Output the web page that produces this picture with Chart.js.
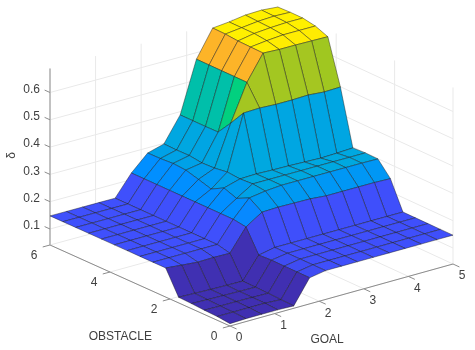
<!DOCTYPE html>
<html>
<head>
<meta charset="utf-8">
<style>
    html, body { margin: 0; padding: 0; background: #fff; }
    canvas { display: block; }
</style>
<script src="https://cdn.jsdelivr.net/npm/chart.js@4"></script>
</head>
<body>
<canvas id="surfaceChart" width="475" height="350"></canvas>
<script>
/* ---------- DATA ---------- */
const goalGrid = [0, 0.357, 0.714, 1.071, 1.429, 1.786, 2.143, 2.5, 2.857, 3.214, 3.571, 3.929, 4.286, 4.643, 5];
const obstacleGrid = [0, 0.429, 0.857, 1.286, 1.714, 2.143, 2.571, 3, 3.429, 3.857, 4.286, 4.714, 5.143, 5.571, 6];

/* one row per obstacle value, one column per goal value */
const deltaRows = [
    [0.050, 0.052, 0.052, 0.052, 0.050, 0.137, 0.147, 0.147, 0.147, 0.147, 0.147, 0.147, 0.147, 0.147, 0.147],
    [0.055, 0.055, 0.055, 0.055, 0.052, 0.137, 0.147, 0.147, 0.147, 0.147, 0.147, 0.147, 0.147, 0.147, 0.147],
    [0.057, 0.056, 0.056, 0.055, 0.054, 0.137, 0.147, 0.147, 0.147, 0.147, 0.147, 0.147, 0.147, 0.147, 0.147],
    [0.060, 0.058, 0.057, 0.056, 0.055, 0.138, 0.147, 0.147, 0.147, 0.147, 0.147, 0.147, 0.147, 0.147, 0.147],
    [0.062, 0.060, 0.058, 0.057, 0.056, 0.135, 0.147, 0.147, 0.147, 0.147, 0.147, 0.147, 0.147, 0.147, 0.147],
    [0.148, 0.142, 0.137, 0.138, 0.137, 0.217, 0.255, 0.257, 0.256, 0.255, 0.250, 0.250, 0.250, 0.250, 0.248],
    [0.148, 0.148, 0.148, 0.148, 0.148, 0.224, 0.286, 0.295, 0.300, 0.300, 0.300, 0.300, 0.300, 0.300, 0.299],
    [0.148, 0.148, 0.148, 0.148, 0.148, 0.224, 0.263, 0.300, 0.300, 0.300, 0.300, 0.300, 0.300, 0.300, 0.300],
    [0.148, 0.148, 0.148, 0.148, 0.148, 0.224, 0.280, 0.297, 0.299, 0.297, 0.296, 0.294, 0.292, 0.294, 0.297],
    [0.148, 0.148, 0.148, 0.148, 0.148, 0.224, 0.255, 0.301, 0.501, 0.503, 0.500, 0.500, 0.502, 0.497, 0.499],
    [0.148, 0.148, 0.148, 0.148, 0.148, 0.224, 0.269, 0.294, 0.443, 0.576, 0.667, 0.664, 0.664, 0.663, 0.662],
    [0.148, 0.148, 0.148, 0.148, 0.148, 0.224, 0.282, 0.292, 0.389, 0.576, 0.668, 0.675, 0.680, 0.680, 0.680],
    [0.148, 0.148, 0.148, 0.148, 0.148, 0.224, 0.285, 0.298, 0.388, 0.576, 0.669, 0.680, 0.685, 0.688, 0.688],
    [0.148, 0.148, 0.148, 0.148, 0.148, 0.224, 0.282, 0.297, 0.388, 0.576, 0.673, 0.680, 0.687, 0.690, 0.688],
    [0.148, 0.148, 0.148, 0.148, 0.148, 0.224, 0.281, 0.298, 0.388, 0.576, 0.674, 0.680, 0.689, 0.691, 0.686]
];

const goalTicks = [0, 1, 2, 3, 4, 5];
const obstacleTicks = [0, 2, 4, 6];
const deltaTicks = [0.1, 0.2, 0.3, 0.4, 0.5, 0.6];
const goalLabel = "GOAL";
const obstacleLabel = "OBSTACLE";
const deltaLabel = "δ";

/* ---------- VIEW ---------- */
const deltaMin = 0.0414;
const deltaMax = 0.688;
const goalMax = 5;
const obstacleMax = 6;

/* face colours along the normalised delta range */
const colorStops = [
    [0.00, [64, 46, 176]],
    [0.03, [64, 48, 178]],
    [0.17, [63, 81, 255]],
    [0.285, [0, 144, 255]],
    [0.37, [0, 160, 232]],
    [0.40, [0, 168, 224]],
    [0.54, [0, 192, 168]],
    [0.62, [0, 208, 128]],
    [0.70, [156, 200, 32]],
    [0.83, [255, 180, 40]],
    [0.97, [255, 240, 0]],
    [1.00, [255, 240, 0]]
];

/* near-orthographic view, result is in chart scale units */
function project(goal, obstacle, delta) {
    return {
        x: 230 + 44.6 * goal - 30 * obstacle + 0.16 * goal * obstacle,
        y: 326 - 12.4 * goal - 13.5 * obstacle - 273 * (delta - deltaMin)
    };
}

function faceColor(delta) {
    const t = (delta - deltaMin) / (deltaMax - deltaMin);
    for (let i = 1; i < colorStops.length; i++) {
        if (t <= colorStops[i][0]) {
            const [t0, c0] = colorStops[i - 1];
            const [t1, c1] = colorStops[i];
            const f = Math.max(0, (t - t0) / (t1 - t0));
            const mix = c0.map((c, k) => Math.round(c + (c1[k] - c) * f));
            return `rgb(${mix.join(",")})`;
        }
    }
    return "rgb(255,240,0)";
}

/* ---------- DATASETS ---------- */
function lineSet(points, color, width) {
    return {
        data: points,
        borderColor: color,
        borderWidth: width,
        pointRadius: 0,
        fill: false,
        tension: 0,
        clip: false
    };
}

function faceSet(i, j) {
    const corners = [
        project(goalGrid[i], obstacleGrid[j], deltaRows[j][i]),
        project(goalGrid[i + 1], obstacleGrid[j], deltaRows[j][i + 1]),
        project(goalGrid[i + 1], obstacleGrid[j + 1], deltaRows[j + 1][i + 1]),
        project(goalGrid[i], obstacleGrid[j + 1], deltaRows[j + 1][i])
    ];
    corners.push(corners[0]);
    return {
        data: corners,
        borderColor: "rgba(20,20,20,0.72)",
        borderWidth: 0.6,
        backgroundColor: faceColor(deltaRows[j][i]),
        pointRadius: 0,
        fill: "shape",
        tension: 0,
        clip: false
    };
}

const wallColor = "#e9e9e9";
const axisColor = "#8c8c8c";
const paintOrder = [];

/* grid on the back walls and the floor */
deltaTicks.forEach(d => {
    paintOrder.push(lineSet([
        project(0, obstacleMax, d),
        project(goalMax, obstacleMax, d),
        project(goalMax, 0, d)
    ], wallColor, 1));
});
goalTicks.forEach(g => {
    paintOrder.push(lineSet([
        project(g, 0, deltaMin),
        project(g, obstacleMax, deltaMin),
        project(g, obstacleMax, deltaMax)
    ], wallColor, 1));
});
obstacleTicks.forEach(o => {
    paintOrder.push(lineSet([
        project(0, o, deltaMin),
        project(goalMax, o, deltaMin),
        project(goalMax, o, deltaMax)
    ], wallColor, 1));
});

/* axis lines and ticks */
paintOrder.push(lineSet([project(0, obstacleMax, deltaMin), project(0, 0, deltaMin), project(goalMax, 0, deltaMin)], axisColor, 1));
paintOrder.push(lineSet([project(0, obstacleMax, deltaMin), project(0, obstacleMax, deltaMax)], "#b4b4b4", 1.6));
goalTicks.forEach(g => {
    paintOrder.push(lineSet([project(g, 0, deltaMin), project(g, -0.22, deltaMin)], axisColor, 1));
});
obstacleTicks.forEach(o => {
    paintOrder.push(lineSet([project(0, o, deltaMin), project(-0.16, o, deltaMin)], axisColor, 1));
});
deltaTicks.forEach(d => {
    paintOrder.push(lineSet([project(0, obstacleMax, d), project(0, obstacleMax + 0.18, d)], axisColor, 1));
});

/* surface, far corner first */
for (let j = obstacleGrid.length - 2; j >= 0; j--) {
    for (let i = goalGrid.length - 2; i >= 0; i--) {
        paintOrder.push(faceSet(i, j));
    }
}

/* ---------- TEXT ---------- */
const textPlugin = {
    id: "axisText",
    afterDraw(chart) {
        const { ctx, scales } = chart;
        const put = (pos, dx, dy, text, align) => {
            ctx.textAlign = align || "center";
            ctx.fillText(text, scales.x.getPixelForValue(pos.x) + dx, scales.y.getPixelForValue(pos.y) + dy);
        };
        ctx.save();
        ctx.font = "12px 'Liberation Sans', Arial, sans-serif";
        ctx.fillStyle = "#404040";
        ctx.textBaseline = "middle";
        deltaTicks.forEach(d => put(project(0, obstacleMax, d), -10, -3, d.toFixed(1), "right"));
        obstacleTicks.forEach(o => put(project(0, o, deltaMin), -16, 11, String(o)));
        goalTicks.forEach(g => put(project(g, 0, deltaMin), 9, 12, String(g)));
        put(project(1.05, 0.05, deltaMin), -155, 24, obstacleLabel);
        put(project(2.2, 0, deltaMin), -1, 41, goalLabel);
        const zAxis = project(0, obstacleMax, 0.37);
        ctx.translate(scales.x.getPixelForValue(zAxis.x) - 38, scales.y.getPixelForValue(zAxis.y));
        ctx.rotate(-Math.PI / 2);
        ctx.fillText(deltaLabel, 0, 0);
        ctx.restore();
    }
};

/* ---------- CHART ---------- */
new Chart(document.getElementById("surfaceChart").getContext("2d"), {
    type: "line",
    data: { datasets: paintOrder.slice().reverse() },
    options: {
        responsive: false,
        animation: false,
        layout: { padding: 0 },
        events: [],
        plugins: {
            legend: { display: false },
            tooltip: { enabled: false }
        },
        scales: {
            x: { type: "linear", min: 0, max: 475, display: false },
            y: { type: "linear", min: 0, max: 350, reverse: true, display: false }
        }
    },
    plugins: [textPlugin]
});
</script>
</body>
</html>
